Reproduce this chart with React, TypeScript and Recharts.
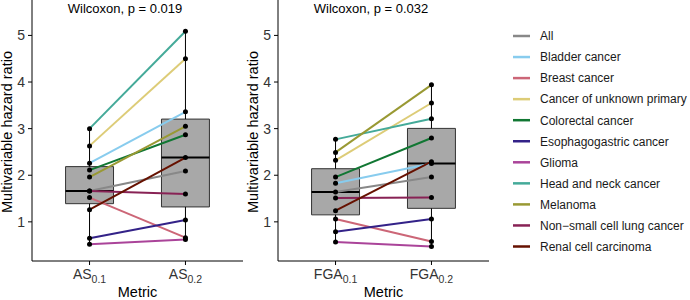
import {
  ComposedChart,
  Line,
  ReferenceArea,
  ReferenceLine,
  Scatter,
  XAxis,
  YAxis,
} from "recharts";

const FONT = '"Liberation Sans", Arial, Helvetica, sans-serif';

const cancerTypes = [
  "All",
  "Bladder cancer",
  "Breast cancer",
  "Cancer of unknown primary",
  "Colorectal cancer",
  "Esophagogastric cancer",
  "Glioma",
  "Head and neck cancer",
  "Melanoma",
  "Non\u2212small cell lung cancer",
  "Renal cell carcinoma",
];
const cancerColors = [
  "#888888",
  "#88CCEE",
  "#CC6677",
  "#DDCC77",
  "#117733",
  "#332288",
  "#AA4499",
  "#44AA99",
  "#999933",
  "#882255",
  "#661100",
];

// hazard ratios, same order as cancerTypes
const asLow = [1.66, 2.26, 1.52, 2.63, 2.11, 0.65, 0.52, 3.0, 1.96, 1.66, 1.26];
const asHigh = [2.09, 3.36, 0.66, 4.5, 2.87, 1.04, 0.62, 5.09, 3.05, 1.6, 2.38];
const fgaLow = [1.64, 1.83, 1.06, 2.32, 1.96, 0.79, 0.57, 2.77, 2.49, 1.51, 1.24];
const fgaHigh = [1.96, 2.25, 0.58, 3.55, 2.8, 1.06, 0.47, 3.21, 3.94, 1.52, 2.29];

const levels = ["0.1", "0.2"];
const yTicks = [1, 2, 3, 4, 5];

function quantile(vals: number[], p: number) {
  const s = [...vals].sort((a, b) => a - b);
  const h = (s.length - 1) * p;
  const lo = Math.floor(h);
  const hi = Math.min(lo + 1, s.length - 1);
  return s[lo] + (h - lo) * (s[hi] - s[lo]);
}

function boxStats(vals: number[]) {
  const q1 = quantile(vals, 0.25);
  const med = quantile(vals, 0.5);
  const q3 = quantile(vals, 0.75);
  const iqr = q3 - q1;
  const lo = Math.min(...vals.filter((v) => v >= q1 - 1.5 * iqr));
  const hi = Math.max(...vals.filter((v) => v <= q3 + 1.5 * iqr));
  return { q1, med, q3, lo, hi };
}

function MetricTick(props: any) {
  const { x, y, payload, metric } = props;
  return (
    <text x={x} y={y + 12} textAnchor="middle" fontSize={14} fill="#333">
      <tspan>{metric}</tspan>
      <tspan fontSize={10.5} dy={3.5}>
        {levels[payload.value - 1]}
      </tspan>
    </text>
  );
}

function Panel({
  metric,
  low,
  high,
  pLabel,
  left,
}: {
  metric: string;
  low: number[];
  high: number[];
  pLabel: string;
  left: number;
}) {
  const rows = [low, high].map((vals, k) => {
    const row: Record<string, number> = { x: k + 1 };
    vals.forEach((v, i) => (row[`s${i}`] = v));
    return row;
  });
  const points = [low, high].flatMap((vals, k) => vals.map((v) => ({ x: k + 1, y: v })));
  const boxes = [low, high].map((vals, k) => ({ x: k + 1, ...boxStats(vals) }));

  return (
    <div style={{ position: "absolute", left, top: 0 }}>
      <ComposedChart width={245} height={300} data={rows} margin={{ top: 0, right: 2, left: 0, bottom: 0 }}>
        <XAxis
          type="number"
          dataKey="x"
          domain={[0.4, 2.6]}
          ticks={[1, 2]}
          allowDataOverflow
          height={39}
          tickSize={4}
          axisLine={{ stroke: "#000" }}
          tickLine={{ stroke: "#000" }}
          tick={<MetricTick metric={metric} />}
        />
        <YAxis
          type="number"
          domain={[0.16, 5.76]}
          ticks={yTicks}
          allowDataOverflow
          width={32}
          tickSize={4}
          tickMargin={3}
          axisLine={{ stroke: "#000" }}
          tickLine={{ stroke: "#000" }}
          tick={{ fill: "#333", fontSize: 14 }}
        />
        {boxes.map((b) => (
          <ReferenceLine
            key={`wu${b.x}`}
            segment={[
              { x: b.x, y: b.q3 },
              { x: b.x, y: b.hi },
            ]}
            stroke="#000"
            strokeWidth={1}
          />
        ))}
        {boxes.map((b) => (
          <ReferenceLine
            key={`wl${b.x}`}
            segment={[
              { x: b.x, y: b.lo },
              { x: b.x, y: b.q1 },
            ]}
            stroke="#000"
            strokeWidth={1}
          />
        ))}
        {boxes.map((b) => (
          <ReferenceArea
            key={`box${b.x}`}
            x1={b.x - 0.25}
            x2={b.x + 0.25}
            y1={b.q1}
            y2={b.q3}
            fill="#A8A8A8"
            fillOpacity={1}
            stroke="#333"
            strokeWidth={1}
          />
        ))}
        {boxes.map((b) => (
          <ReferenceLine
            key={`med${b.x}`}
            segment={[
              { x: b.x - 0.25, y: b.med },
              { x: b.x + 0.25, y: b.med },
            ]}
            stroke="#000"
            strokeWidth={2}
          />
        ))}
        {cancerTypes.map((name, i) => (
          <Line
            key={name}
            name={name}
            type="linear"
            dataKey={`s${i}`}
            stroke={cancerColors[i]}
            strokeWidth={2}
            dot={false}
            activeDot={false}
            isAnimationActive={false}
          />
        ))}
        <Scatter
          data={points}
          dataKey="y"
          isAnimationActive={false}
          shape={(p: any) => <circle cx={p.cx} cy={p.cy} r={2.5} fill="#000" />}
        />
        <text x={125} y={12.5} textAnchor="middle" fontSize={13} fill="#000">
          {pLabel}
        </text>
        <text
          x={12}
          y={132}
          textAnchor="middle"
          fontSize={14.5}
          fill="#000"
          transform="rotate(-90, 12, 132)"
        >
          Multivariable hazard ratio
        </text>
        <text x={137.5} y={297} textAnchor="middle" fontSize={14.5} fill="#000">
          Metric
        </text>
      </ComposedChart>
    </div>
  );
}

function LegendBox() {
  return (
    <svg width={185} height={300} style={{ position: "absolute", left: 505, top: 0 }}>
      {cancerTypes.map((name, i) => {
        const cy = 36 + i * 21.05;
        return (
          <g key={name}>
            <line x1={8} x2={25} y1={cy} y2={cy} stroke={cancerColors[i]} strokeWidth={2.5} />
            <text x={35} y={cy + 4.3} fontSize={12} fill="#1a1a1a">
              {name}
            </text>
          </g>
        );
      })}
    </svg>
  );
}

export default function App() {
  return (
    <div
      style={{
        position: "absolute",
        left: 0,
        top: 0,
        width: 690,
        height: 300,
        background: "#fff",
        fontFamily: FONT,
        overflow: "hidden",
      }}
    >
      <Panel metric="AS" low={asLow} high={asHigh} pLabel="Wilcoxon, p = 0.019" left={0} />
      <Panel metric="FGA" low={fgaLow} high={fgaHigh} pLabel="Wilcoxon, p = 0.032" left={246} />
      <LegendBox />
    </div>
  );
}
